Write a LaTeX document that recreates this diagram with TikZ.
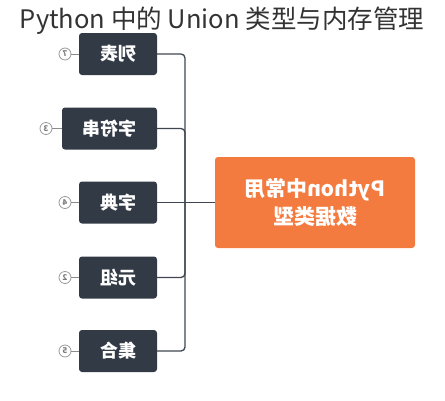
\documentclass[tikz,border=0pt]{standalone}
\usepackage{graphicx}
\usepackage{fontspec}
\newfontfamily\cjk{Noto Sans CJK SC}
\definecolor{boxc}{HTML}{323A45}
\definecolor{linec}{HTML}{3F4650}
\definecolor{orangec}{HTML}{F47B3F}
\definecolor{titlec}{HTML}{333333}
\begin{document}
\begin{tikzpicture}[x=1pt,y=-1pt,
 item/.style={fill=boxc, rounded corners=3pt, text=white, font=\cjk\bfseries\fontsize{18}{20}\selectfont, minimum height=42pt, inner sep=0pt},
 mainbox/.style={fill=orangec, rounded corners=3pt, text=white, font=\cjk\bfseries\fontsize{21}{28}\selectfont, minimum width=200pt, minimum height=91pt, inner sep=0pt, align=center},
 numc/.style={circle, draw=gray!80, line width=0.8pt, minimum size=12pt, inner sep=0pt, text=gray!95!black, font=\cjk\bfseries\fontsize{8}{8}\selectfont},
 conn/.style={draw=linec, line width=1.3pt, rounded corners=4pt},
 tick/.style={draw=gray!90, line width=0.7pt}]
\useasboundingbox (0,0) rectangle (445,400);
\node[font=\cjk\fontsize{25.5}{28}\selectfont, text=titlec] (title) at (222,21) {Python 中的 Union 类型与内存管理};
\coordinate (j) at (185,202.5);
\node[item, minimum width=78pt] (b1) at (118,54) {\reflectbox{列表}};
\node[item, minimum width=95pt] (b2) at (109.5,128.5) {\reflectbox{字符串}};
\node[item, minimum width=78pt] (b3) at (118,202.5) {\reflectbox{字典}};
\node[item, minimum width=78pt] (b4) at (118,277.5) {\reflectbox{元组}};
\node[item, minimum width=78pt] (b5) at (118,351) {\reflectbox{集合}};
\node[mainbox] (m) at (315,202.5) {\reflectbox{Python中常用}\\\reflectbox{数据类型}};
\node[numc] (c1) at (65,54) {\reflectbox{7}};
\node[numc] (c2) at (46,128.5) {\reflectbox{3}};
\node[numc] (c3) at (65,202.5) {\reflectbox{4}};
\node[numc] (c4) at (65,277.5) {\reflectbox{2}};
\node[numc] (c5) at (65,351) {\reflectbox{5}};
\draw[conn] (b1.east) -| (j);
\draw[conn] (b2.east) -| (j);
\draw[conn] (b4.east) -| (j);
\draw[conn] (b5.east) -| (j);
\draw[conn] (b3.east) -- (m.west);
\foreach \i in {1,...,5} \draw[tick] (c\i) -- (b\i.west);
\end{tikzpicture}
\end{document}
